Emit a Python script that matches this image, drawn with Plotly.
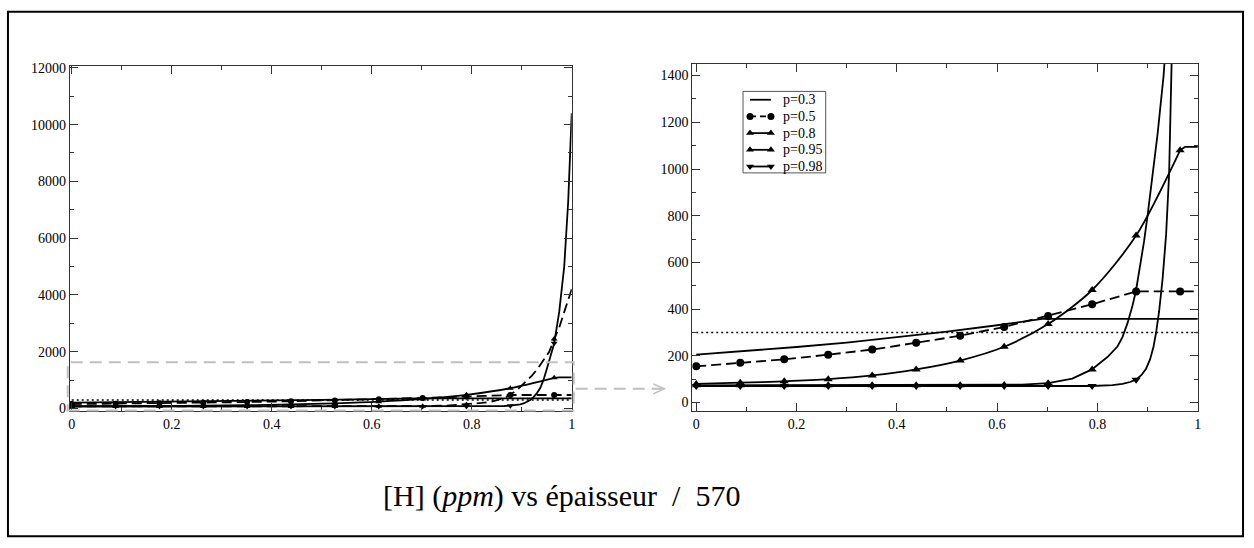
import plotly.graph_objects as go

W, H = 1254, 548

# ---------------- data ----------------
depth = [0, 50, 100, 150, 200, 250, 300, 350, 400, 450, 500, 550]  # épaisseur
thick = 570
xm = [d / thick for d in depth]

# p=0.3 (solid, no markers)
p03_x = [0, 0.1, 0.2, 0.3, 0.4, 0.5, 0.6, 0.69, 1.0]
p03_y = [205, 221, 238, 257, 279, 304, 331, 358, 358]

# p=0.5 (dashed, circles)
p05_y = [155, 170, 185, 205, 227, 256, 286, 324, 371, 421, 476, 476]
p05_end_x = 1.0
p05_end_y = 476

# p=0.8 (solid, triangles up)
p08_y = [80, 85, 91, 100, 116, 142, 180, 239, 336, 482, 715, 1080]
p08_tail_x = [0.975, 1.0]
p08_tail_y = [1095, 1095]

# p=0.95 (triangles up)
p095_x = [0, 0.1, 0.2, 0.3, 0.4, 0.5, 0.6, 0.65, 0.702, 0.75, 0.789, 0.82, 0.84,
          0.85, 0.86, 0.87, 0.877, 0.885, 0.893, 0.9, 0.91, 0.92, 0.932, 0.945,
          0.955, 0.965, 0.975, 0.985, 0.993, 1.0]
p095_y = [74, 74, 74, 74, 74, 74, 75, 77, 83, 103, 142, 195, 240,
          280, 340, 415, 480, 580, 690, 800, 970, 1150, 1400, 1720,
          2000, 2450, 2850, 3400, 3850, 4200]
p095_m = [74, 74, 74, 74, 74, 74, 74, 75, 83, 142, 480, 2450]

# p=0.98 (triangles down)
p098_x = [0, 0.1, 0.2, 0.3, 0.4, 0.5, 0.6, 0.7, 0.789, 0.83, 0.85, 0.865, 0.877,
          0.888, 0.897, 0.905, 0.912, 0.917, 0.923, 0.93, 0.937, 0.943, 0.949,
          0.957, 0.965, 0.975, 0.985, 0.993, 1.0]
p098_y = [71, 71, 71, 71, 71, 71, 71, 71, 71, 75, 80, 88, 98,
          118, 145, 185, 240, 300, 390, 530, 720, 980, 1320,
          1800, 2300, 3400, 5000, 7300, 10400]
p098_m = [71, 71, 71, 71, 71, 71, 71, 71, 71, 71, 98, 2300]

threshold = 300

labels = ["p=0.3", "p=0.5", "p=0.8", "p=0.95", "p=0.98"]
caption = "[H] (<i>ppm</i>) vs épaisseur  /  570"

# ---------------- figure ----------------
fig = go.Figure()
BLK = "black"
LW = 1.8
DASH = "10px,5px"
DOT = "2px,3px"


def add_set(xa, ya, msize, dash95):
    kw = dict(xaxis=xa, yaxis=ya, showlegend=False, hoverinfo="skip")
    fig.add_trace(go.Scatter(x=p03_x, y=p03_y, mode="lines", name=labels[0],
                             line=dict(color=BLK, width=LW), **kw))
    fig.add_trace(go.Scatter(x=xm + [p05_end_x], y=p05_y + [p05_end_y], mode="lines",
                             line=dict(color=BLK, width=LW, dash=DASH), **kw))
    fig.add_trace(go.Scatter(x=xm, y=p05_y, mode="markers", name=labels[1],
                             marker=dict(symbol="circle", size=msize, color=BLK), **kw))
    fig.add_trace(go.Scatter(x=xm, y=p08_y, mode="lines+markers", name=labels[2],
                             line=dict(color=BLK, width=LW, shape="spline", smoothing=0.8),
                             marker=dict(symbol="triangle-up", size=msize, color=BLK), **kw))
    fig.add_trace(go.Scatter(x=[xm[-1]] + p08_tail_x, y=[p08_y[-1]] + p08_tail_y,
                             mode="lines", line=dict(color=BLK, width=LW), **kw))
    fig.add_trace(go.Scatter(x=p095_x, y=p095_y, mode="lines",
                             line=dict(color=BLK, width=LW, dash=DASH if dash95 else "solid"),
                             **kw))
    fig.add_trace(go.Scatter(x=xm, y=p095_m, mode="markers", name=labels[3],
                             marker=dict(symbol="triangle-up", size=msize, color=BLK), **kw))
    fig.add_trace(go.Scatter(x=p098_x, y=p098_y, mode="lines",
                             line=dict(color=BLK, width=LW), **kw))
    fig.add_trace(go.Scatter(x=xm, y=p098_m, mode="markers", name=labels[4],
                             marker=dict(symbol="triangle-down", size=msize, color=BLK), **kw))
    fig.add_trace(go.Scatter(x=[0, 1], y=[threshold, threshold], mode="lines",
                             line=dict(color=BLK, width=1.5, dash=DOT), **kw))


add_set("x", "y", 6, True)
add_set("x2", "y2", 8, False)

# ---------------- legend (drawn in a pixel overlay axis) ----------------
leg_x0, leg_x1, leg_text_x = 752, 773, 783
leg_rows = [96.5, 113.5, 130.5, 147.5, 164.5]
leg_dash = ["solid", "dash", "solid", "solid", "solid"]
leg_sym = [None, "circle", "triangle-up", "triangle-up", "triangle-down"]
for lab, yy, dsh, sym in zip(labels, leg_rows, leg_dash, leg_sym):
    fig.add_trace(go.Scatter(x=[leg_x0, leg_x1], y=[yy, yy], xaxis="x3", yaxis="y3",
                             mode="lines+markers" if sym else "lines", name=lab,
                             line=dict(color=BLK, width=LW, dash="6px,4px" if dsh == "dash" else "solid"),
                             marker=dict(symbol=sym or "circle", size=7, color=BLK),
                             showlegend=False, hoverinfo="skip"))
    fig.add_annotation(x=leg_text_x, y=yy, xref="x3", yref="y3", text=lab, showarrow=False,
                       xanchor="left", yanchor="middle",
                       font=dict(family="Liberation Serif", size=14, color="black"))

TF = dict(family="Liberation Serif", size=14, color="black")


def ax(domain, rng, dtick, mdtick, fmt=None):
    d = dict(domain=domain, range=rng, dtick=dtick, tick0=0, ticks="inside",
             ticklen=8, tickwidth=1, tickcolor="#333", showline=True,
             linecolor="#333", linewidth=1, mirror="ticks", showgrid=False,
             zeroline=False, tickfont=TF, exponentformat="none",
             minor=dict(dtick=mdtick, ticks="inside", ticklen=4, tickcolor="#333",
                        showgrid=False))
    if fmt:
        d["tickformat"] = fmt
    return d


def px(v):
    return v / W


def py(v):
    return 1 - v / H


fig.update_layout(
    width=W, height=H, margin=dict(l=0, r=0, t=0, b=0),
    paper_bgcolor="white", plot_bgcolor="rgba(0,0,0,0)",
    xaxis=ax([px(69), px(573)], [-0.004, 1.0], 0.2, 0.1),
    yaxis=ax([py(414), py(62)], [-104, 12069], 2000, 1000, "d"),
    xaxis2=ax([px(694), px(1202)], [-0.008, 1.001], 0.2, 0.1),
    yaxis2=ax([py(414), py(60)], [-38, 1450], 200, 100),
    xaxis3=dict(domain=[0, 1], range=[0, W], visible=False, fixedrange=True),
    yaxis3=dict(domain=[0, 1], range=[H, 0], visible=False, fixedrange=True),
    showlegend=False,
)
fig.update_layout(yaxis2_anchor="x2", xaxis2_anchor="y2",
                  yaxis3_anchor="x3", xaxis3_anchor="y3")

GR = "#c0c0c0"
shapes = [
    dict(type="rect", xref="paper", yref="paper", x0=px(7), x1=px(1247), y0=py(541), y1=py(7),
         line=dict(color="black", width=2)),
    dict(type="rect", xref="paper", yref="paper", x0=px(67), x1=px(575), y0=py(413), y1=py(364),
         line=dict(color=GR, width=2, dash="12px,7px")),
    dict(type="line", xref="paper", yref="paper", x0=px(577), x1=px(664), y0=py(391), y1=py(391),
         line=dict(color=GR, width=2, dash="12px,7px")),
    dict(type="path", xref="paper", yref="paper",
         path=f"M {px(655)} {py(386)} L {px(666)} {py(391)} L {px(655)} {py(396)}",
         line=dict(color=GR, width=1.5)),
    dict(type="rect", xref="paper", yref="paper", x0=px(745), x1=px(828), y0=py(171), y1=py(88),
         line=dict(color="#555", width=1)),
]
fig.update_layout(shapes=shapes)

fig.add_annotation(x=px(563), y=py(500), xref="paper", yref="paper", text=caption,
                   showarrow=False, xanchor="center", yanchor="middle",
                   font=dict(family="Liberation Serif", size=30, color="black"))

fig.write_html("out.html", config={"displayModeBar": False},
               post_script="document.body.style.margin='0';document.body.style.overflow='hidden';")
